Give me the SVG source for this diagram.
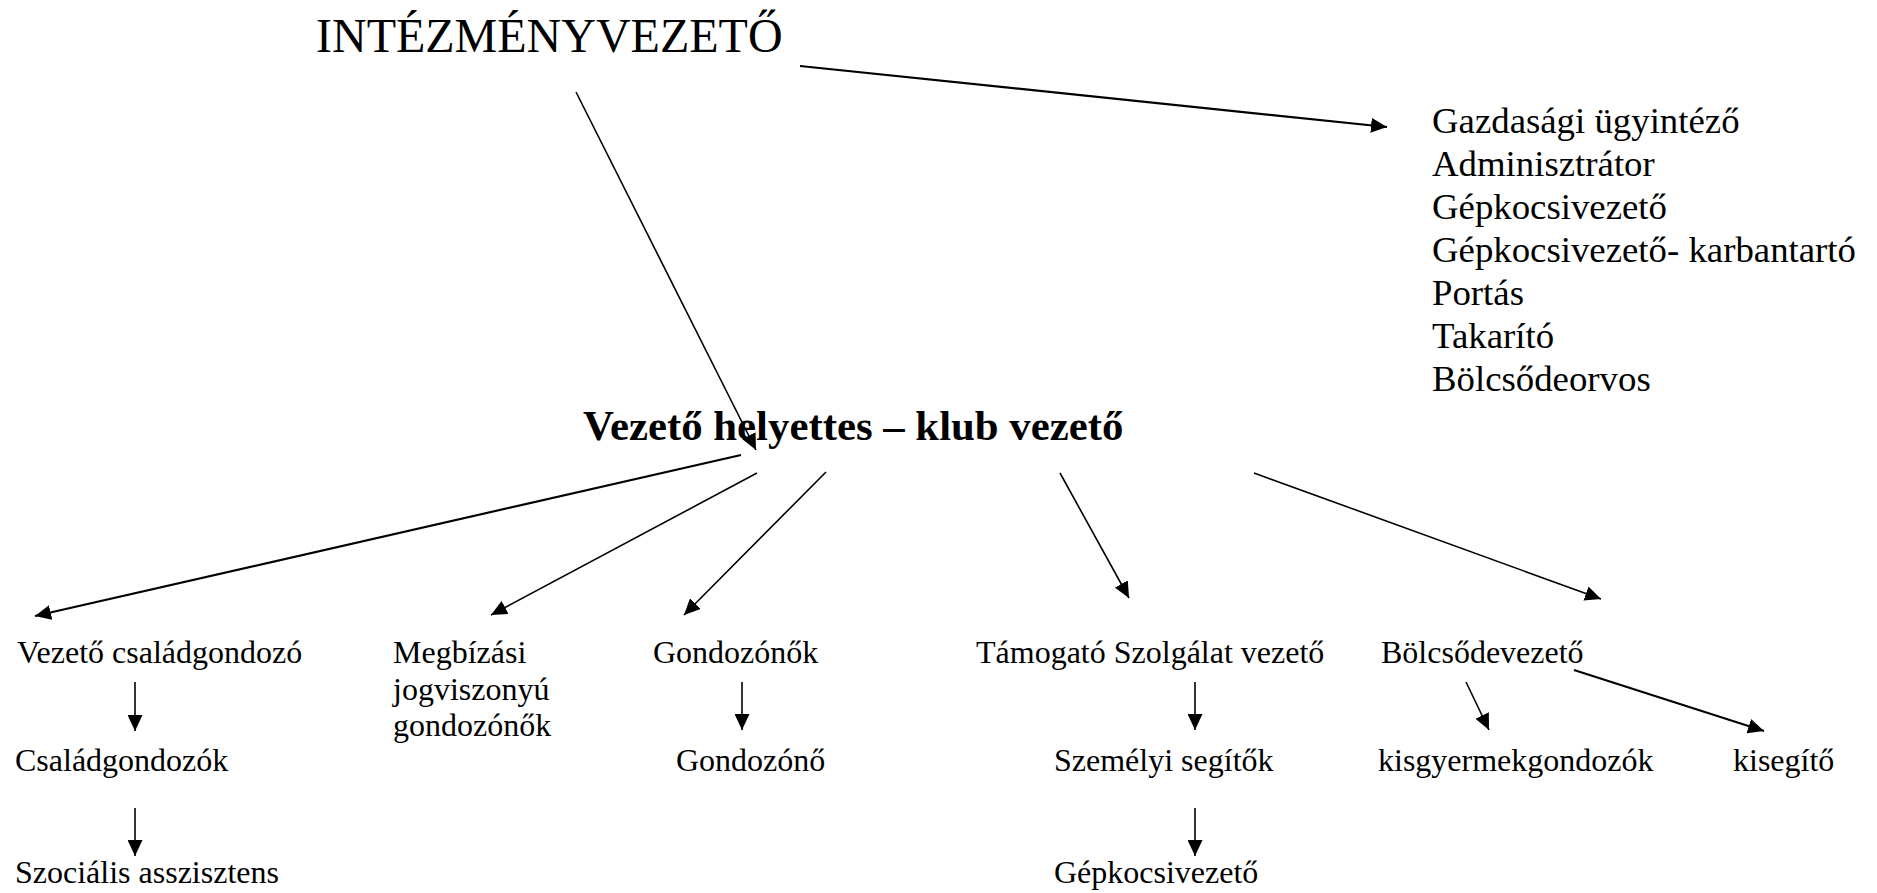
<svg xmlns="http://www.w3.org/2000/svg" width="1877" height="893" viewBox="0 0 1877 893">
<style>
text{font-family:"Liberation Serif","Times New Roman",serif;fill:#000}
.t{font-size:48px}
.b{font-size:42.8px;font-weight:bold}
.r{font-size:36.8px}
.n{font-size:32px}
.c line{stroke:#000;stroke-width:1.6;marker-end:url(#ah)}
.c line.k{stroke-width:2.2}
</style>
<defs>
<marker id="ah" markerUnits="userSpaceOnUse" markerWidth="16" markerHeight="15" refX="16" refY="7.5" orient="auto">
<path d="M0,0 L16,7.5 L0,15 z" fill="#000"/>
</marker>
</defs>
<rect width="1877" height="893" fill="#fff"/>
<g id="intezmenyvezeto"><text class="t" x="316" y="52">INTÉZMÉNYVEZETŐ</text></g>
<g id="staff">
<text class="r" x="1432" y="133">Gazdasági ügyintéző</text>
<text class="r" x="1432" y="176">Adminisztrátor</text>
<text class="r" x="1432" y="219">Gépkocsivezető</text>
<text class="r" x="1432" y="262">Gépkocsivezető- karbantartó</text>
<text class="r" x="1432" y="305">Portás</text>
<text class="r" x="1432" y="348">Takarító</text>
<text class="r" x="1432" y="391">Bölcsődeorvos</text>
</g>
<g id="helyettes"><text class="b" x="583" y="440">Vezető helyettes – klub vezető</text></g>
<g id="vezeto-csaladgondozo"><text class="n" x="17" y="663">Vezető családgondozó</text></g>
<g id="csaladgondozok"><text class="n" x="15" y="771">Családgondozók</text></g>
<g id="szocialis-asszisztens"><text class="n" x="15" y="883">Szociális asszisztens</text></g>
<g id="megbizasi">
<text class="n" x="393" y="663">Megbízási</text>
<text class="n" x="393" y="700">jogviszonyú</text>
<text class="n" x="393" y="736">gondozónők</text>
</g>
<g id="gondozonok"><text class="n" x="653" y="663">Gondozónők</text></g>
<g id="gondozono"><text class="n" x="676" y="771">Gondozónő</text></g>
<g id="tamogato"><text class="n" x="976" y="663">Támogató Szolgálat vezető</text></g>
<g id="szemelyi-segitok"><text class="n" x="1054" y="771">Személyi segítők</text></g>
<g id="gepkocsivezeto"><text class="n" x="1054" y="883">Gépkocsivezető</text></g>
<g id="bolcsodevezeto"><text class="n" x="1381" y="663">Bölcsődevezető</text></g>
<g id="kisgyermekgondozok"><text class="n" x="1378" y="771">kisgyermekgondozók</text></g>
<g id="kisegito"><text class="n" x="1733" y="771">kisegítő</text></g>
<g id="connectors" class="c">
<line class="k" x1="800" y1="66" x2="1387" y2="127"/>
<line x1="576" y1="92" x2="756" y2="450"/>
<line class="k" x1="741" y1="455" x2="35" y2="616"/>
<line x1="757" y1="473" x2="491" y2="615"/>
<line x1="826" y1="472" x2="684" y2="615"/>
<line x1="1060" y1="473" x2="1129" y2="598"/>
<line x1="1254" y1="473" x2="1601" y2="599"/>
<line x1="135" y1="682" x2="135" y2="731"/>
<line x1="135" y1="808" x2="135" y2="856"/>
<line x1="742" y1="682" x2="742" y2="730"/>
<line x1="1195" y1="682" x2="1195" y2="730"/>
<line x1="1195" y1="808" x2="1195" y2="856"/>
<line x1="1466" y1="682" x2="1489" y2="730"/>
<line class="k" x1="1574" y1="670" x2="1764" y2="731"/>
</g>
</svg>
